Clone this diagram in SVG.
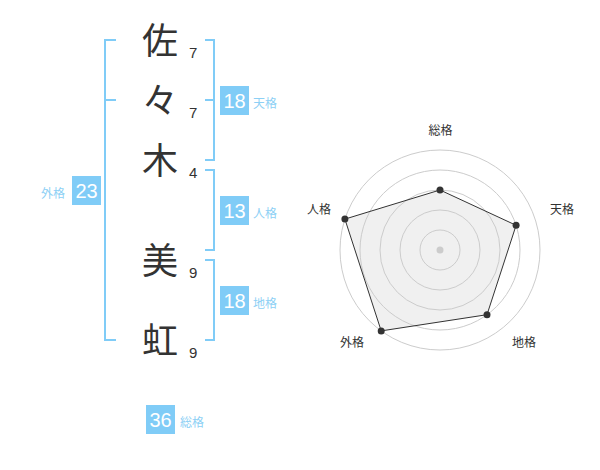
<svg xmlns="http://www.w3.org/2000/svg" width="600" height="470" viewBox="0 0 600 470">
<style>
.ch{font-family:"Noto Sans CJK JP","Noto Sans CJK SC",sans-serif;font-size:36px;fill:#333;text-anchor:middle}
.num{font-family:"Liberation Sans",Arial,sans-serif;font-size:15px;fill:#333}
.br{fill:none;stroke:#80ccf7;stroke-width:2}
.box{fill:#80ccf7}
.bt{font-family:"Liberation Sans",Arial,sans-serif;font-size:20px;fill:#fff;text-anchor:middle}
.lab{font-family:"Noto Sans CJK JP","Noto Sans CJK SC",sans-serif;font-size:12px;fill:#8dd0f5}
.rl{font-family:"Noto Sans CJK JP","Noto Sans CJK SC",sans-serif;font-size:12px;fill:#333;text-anchor:middle}
.ring{fill:none;stroke:#cccccc;stroke-width:1}
.pt{fill:#333}
</style>
<rect width="600" height="470" fill="#fff"/>
<g id="name">
<g id="c1"><text class="ch" x="160" y="54">佐</text><text class="num" x="189" y="58">7</text></g>
<g id="c2"><text class="ch" x="160" y="114">々</text><text class="num" x="189" y="118">7</text></g>
<g id="c3"><text class="ch" x="160" y="174">木</text><text class="num" x="189" y="178">4</text></g>
<g id="c4"><text class="ch" x="160" y="274">美</text><text class="num" x="189" y="278">9</text></g>
<g id="c5"><text class="ch" x="160" y="354">虹</text><text class="num" x="189" y="358">9</text></g>
</g>
<g id="connectors">
<path class="br" d="M116 40 H105 V340 H116 M105 100 H116"/>
<path class="br" d="M205 40 H214 V160 H205 M205 100 H214"/>
<path class="br" d="M205 170 H214 V250 H205"/>
<path class="br" d="M205 260 H214 V340 H205"/>
</g>
<g id="tenkaku"><rect class="box" x="220" y="86" width="29" height="29"/><text class="bt" x="234.5" y="108">18</text><text class="lab" x="253" y="108">天格</text></g>
<g id="jinkaku"><rect class="box" x="220" y="196" width="29" height="29"/><text class="bt" x="234.5" y="218">13</text><text class="lab" x="253" y="218">人格</text></g>
<g id="chikaku"><rect class="box" x="220" y="286" width="29" height="29"/><text class="bt" x="234.5" y="308">18</text><text class="lab" x="253" y="308">地格</text></g>
<g id="gaikaku"><rect class="box" x="72" y="176" width="29" height="29"/><text class="bt" x="86.5" y="198">23</text><text class="lab" x="41" y="198">外格</text></g>
<g id="soukaku"><rect class="box" x="146" y="405" width="29" height="29"/><text class="bt" x="160.5" y="427">36</text><text class="lab" x="180" y="427">総格</text></g>
<g id="radar">
<polygon points="440,190 516.1,225.3 487,314.7 381.2,330.9 344.9,219.1" fill="#000" fill-opacity="0.06"/>
<circle class="ring" cx="440" cy="250" r="20"/>
<circle class="ring" cx="440" cy="250" r="40"/>
<circle class="ring" cx="440" cy="250" r="60"/>
<circle class="ring" cx="440" cy="250" r="80"/>
<circle class="ring" cx="440" cy="250" r="100"/>
<circle cx="440" cy="250" r="3.5" fill="#ccc"/>
<polygon points="440,190 516.1,225.3 487,314.7 381.2,330.9 344.9,219.1" fill="none" stroke="#333" stroke-width="1"/>
<circle class="pt" cx="440" cy="190" r="3.5"/>
<circle class="pt" cx="516.1" cy="225.3" r="3.5"/>
<circle class="pt" cx="487" cy="314.7" r="3.5"/>
<circle class="pt" cx="381.2" cy="330.9" r="3.5"/>
<circle class="pt" cx="344.9" cy="219.1" r="3.5"/>
<text class="rl" x="440.5" y="135">総格</text>
<text class="rl" x="562" y="213.5">天格</text>
<text class="rl" x="524" y="346.5">地格</text>
<text class="rl" x="352" y="346.5">外格</text>
<text class="rl" x="319" y="213.5">人格</text>
</g>
</svg>
